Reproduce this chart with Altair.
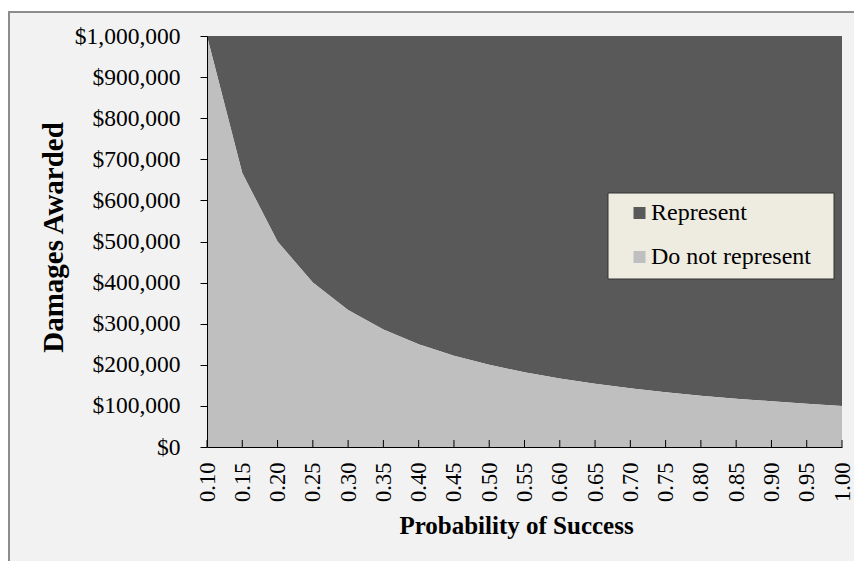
import altair as alt
import pandas as pd

# ---- data ----
probability = [0.10, 0.15, 0.20, 0.25, 0.30, 0.35, 0.40, 0.45, 0.50, 0.55,
               0.60, 0.65, 0.70, 0.75, 0.80, 0.85, 0.90, 0.95, 1.00]
do_not_represent = [1000000, 666667, 500000, 400000, 333333, 285714, 250000,
                    222222, 200000, 181818, 166667, 153846, 142857, 133333,
                    125000, 117647, 111111, 105263, 100000]
represent_top = 1000000
series = ["Represent", "Do not represent"]
colors = ["#595959", "#bfbfbf"]
y_ticks = [0, 100000, 200000, 300000, 400000, 500000, 600000, 700000, 800000, 900000, 1000000]

df = pd.DataFrame({
    "p": probability,
    "threshold": do_not_represent,
    "top": [represent_top] * len(probability),
})

W, H = 635, 411
FONT = "Liberation Serif"

x_enc = alt.X(
    "p:Q",
    scale=alt.Scale(domain=[0.1, 1.0], nice=False, zero=False),
    axis=alt.Axis(
        values=probability, format=".2f", labelAngle=270, labelAlign="right",
        labelBaseline="middle", labelPadding=15, ticks=False,
        labelFont=FONT, labelFontSize=22.5, labelColor="black",
        domainColor="black", domainWidth=1,
        title="Probability  of Success", titleFont=FONT, titleFontSize=25,
        titleFontWeight="bold", titleColor="black",
        titleX=309, titleY=86, titleAlign="center", titleBaseline="alphabetic",
        titleAngle=0, grid=False, zindex=1, labelOverlap=False,
        labelFlush=False, labelBound=False,
    ),
)
y_scale = alt.Scale(domain=[0, 1000000], nice=False, zero=True)
y_axis = alt.Axis(
    values=y_ticks, format="$,.0f", tickSize=7, tickColor="black",
    labelPadding=20, labelFont=FONT, labelFontSize=23.5, labelColor="black",
    domainColor="black", domainWidth=1,
    title="Damages Awarded", titleFont=FONT, titleFontSize=29,
    titleFontWeight="bold", titleColor="black",
    titleX=-145, titleY=201, titleAngle=270, titleAlign="center",
    titleBaseline="alphabetic", grid=False, zindex=1, labelOverlap=False,
)
y_enc = alt.Y("threshold:Q", scale=y_scale, axis=y_axis)

base = alt.Chart(df)

frame = alt.Chart(alt.Data(values=[{"k": 1}])).mark_rect(
    fill="#f2f2f2", stroke="#8c8c8c", strokeWidth=2
).encode(x=alt.value(-198), x2=alt.value(680), y=alt.value(-24), y2=alt.value(530))

upper = base.mark_area(color=colors[0], opacity=1).encode(
    x=x_enc, y=y_enc, y2="top:Q",
)
lower = base.mark_area(color=colors[1], opacity=1).encode(
    x=x_enc, y=y_enc,
)
ticks = base.mark_rule(color="black", strokeWidth=1).encode(
    x=x_enc, y=alt.value(H - 7), y2=alt.value(H)
)

# legend box
legend_box = alt.Chart(alt.Data(values=[{"k": 1}])).mark_rect(
    fill="#eeece1", stroke="#333333", strokeWidth=1
).encode(x=alt.value(401), x2=alt.value(627), y=alt.value(157), y2=alt.value(243))

legend_layers = []
row_y = [177, 221]
for name, col, yy in zip(series, colors, row_y):
    one = alt.Chart(alt.Data(values=[{"k": 1}]))
    legend_layers.append(
        one.mark_square(size=144, color=col, opacity=1).encode(
            x=alt.value(432.5), y=alt.value(yy)
        )
    )
    legend_layers.append(
        one.mark_text(font=FONT, fontSize=24, align="left", baseline="middle",
                      color="black").encode(
            x=alt.value(444), y=alt.value(yy), text=alt.value(name)
        )
    )

chart = alt.layer(frame, upper, lower, ticks, legend_box, *legend_layers).properties(
    width=W, height=H,
    autosize=alt.AutoSizeParams(type="none"),
    padding={"left": 199, "top": 28, "right": 12, "bottom": 114},
    background="white",
).configure_view(stroke="black", strokeWidth=1)

chart.save("out.html", embed_options={"renderer": "svg", "actions": False})
